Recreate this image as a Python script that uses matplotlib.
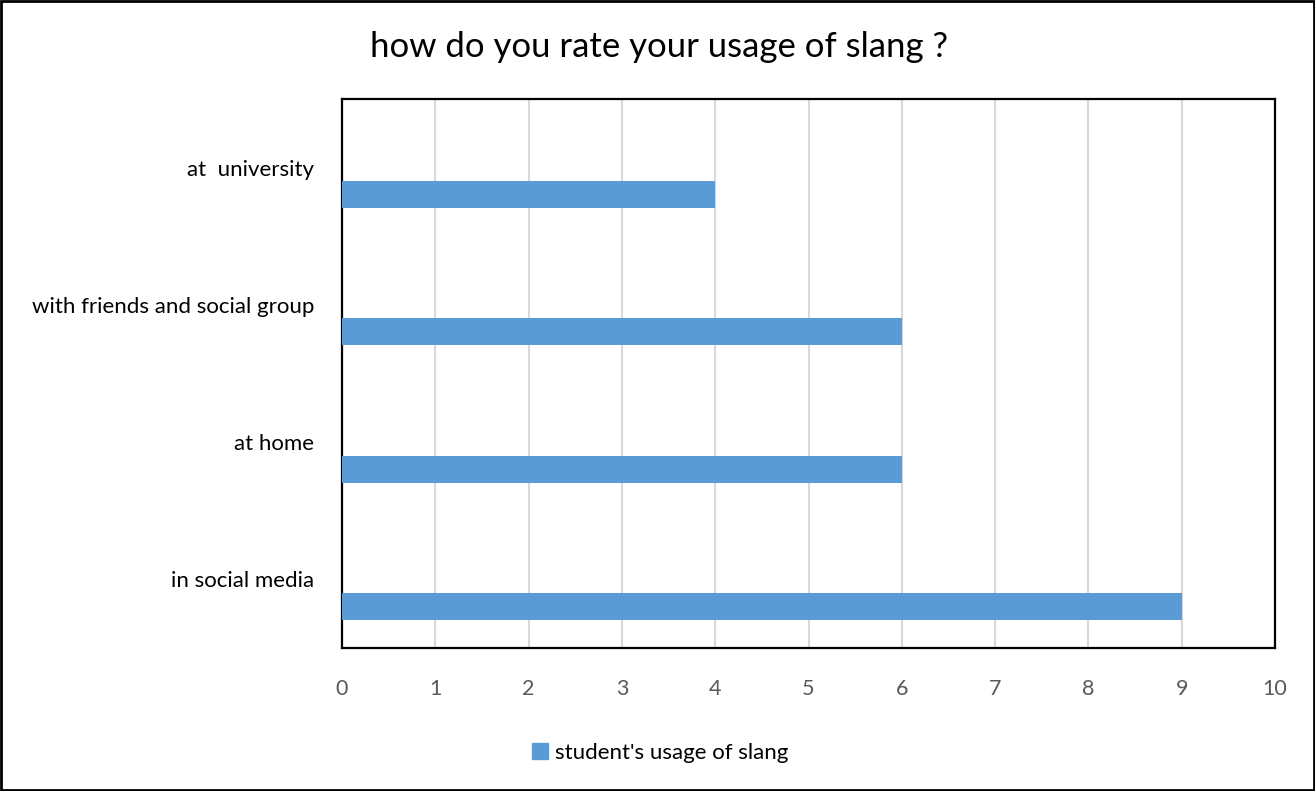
import matplotlib
matplotlib.use('Agg')
import matplotlib.pyplot as plt
from matplotlib.patches import Rectangle, Patch

# ── Data (bottom to top, as drawn) ──────────────────────────────────────
categories = ['in social media', 'at home', 'with friends and social group', 'at  university']
values = [9, 6, 6, 4]
xticks = list(range(0, 11))
series_name = "student's usage of slang"
title = 'how do you rate your usage of slang ?'

BAR = '#5B9BD5'
GREY = '#595959'
plt.rcParams['font.family'] = ['Lato', 'DejaVu Sans']

fig = plt.figure(figsize=(13.15, 7.91), dpi=100)
ax = fig.add_axes([342/1315, 1 - 648/791, 933/1315, 549/791])

ypos = list(range(len(categories)))
# bars sit in the lower half of each band (empty second series slot above)
ax.barh([y - 0.196 for y in ypos], values, height=0.197, color=BAR,
        zorder=3, label=series_name)

ax.set_xlim(0, 10)
ax.set_ylim(-0.5, len(categories) - 0.5)
ax.set_xticks(xticks)
ax.set_xticklabels([str(t) for t in xticks], fontsize=15.5, color=GREY)
ax.set_yticks(ypos)
ax.set_yticklabels(categories, fontsize=16, color='black')
ax.tick_params(axis='x', length=0, pad=22)
ax.tick_params(axis='y', length=0, pad=20)
ax.grid(axis='x', color='#D9D9D9', linewidth=1.5, zorder=0)
for s in ax.spines.values():
    s.set_color('black')
    s.set_linewidth(1.6)

fig.text(659/1315, 1 - 47/791, title, fontsize=25, ha='center', va='center')

fig.legend(handles=[Patch(color=BAR, label=series_name)],
           loc='center', bbox_to_anchor=(660/1315, 1 - 753/791),
           frameon=False, fontsize=16, handlelength=0.75, handleheight=0.75,
           handletextpad=0.3)

# outer border
fig.patches.append(Rectangle((0.001, 0.001), 0.998, 0.998, transform=fig.transFigure,
                             fill=False, edgecolor='black', linewidth=2))

plt.savefig('out.png', dpi=100)
